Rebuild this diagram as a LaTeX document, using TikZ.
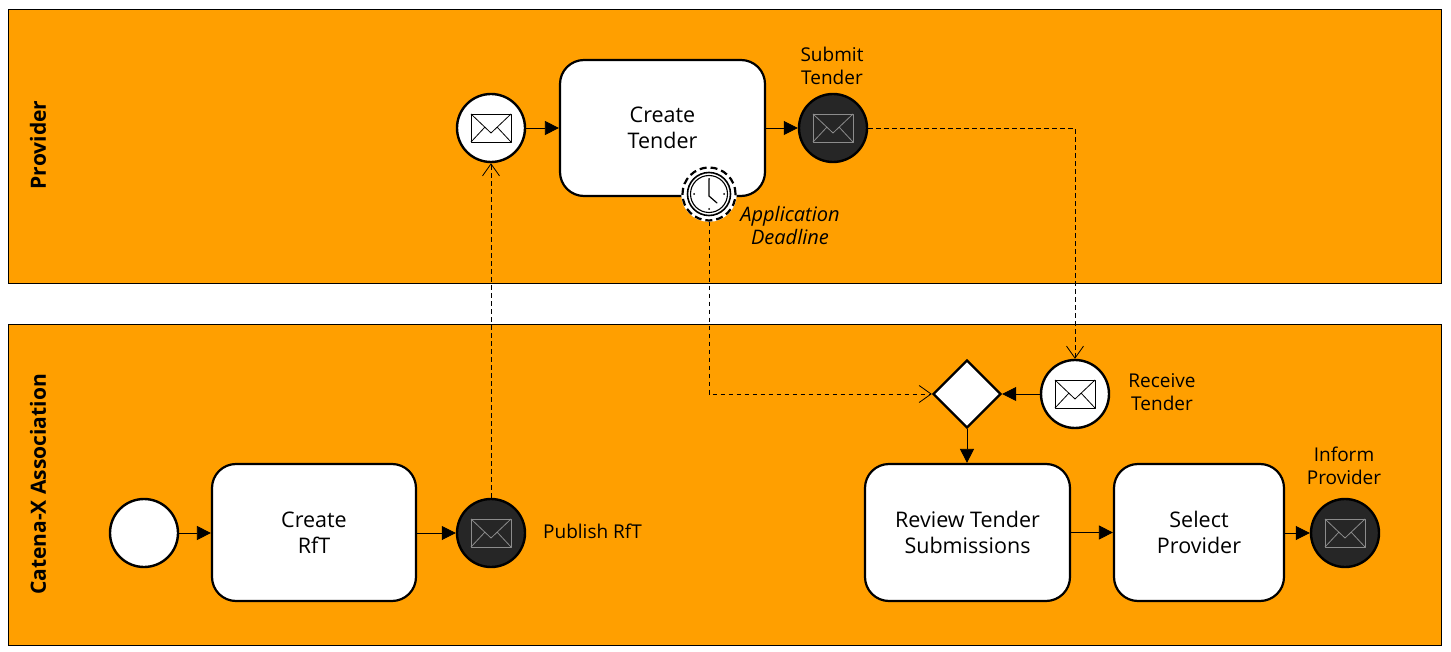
\documentclass[tikz,border=0pt]{standalone}
\usepackage{fontspec}
\setmainfont{Open Sans}
\usetikzlibrary{arrows.meta,calc,shapes.geometric}
\definecolor{lane}{HTML}{FF9F00}
\definecolor{darkev}{HTML}{262626}
\definecolor{envgray}{HTML}{8C8C8C}
\tikzset{
  x=1pt,y=-1pt,
  lanebox/.style={draw=black,line width=1pt,fill=lane},
  lanetext/.style={font=\bfseries\fontsize{21}{24}\selectfont,rotate=90,inner sep=0pt},
  taskbox/.style={draw=black,line width=2.2pt,fill=white,rounded corners=24pt,align=center,inner sep=0pt,font=\fontsize{21.5}{25.5}\selectfont},
  lightev/.style={circle,draw=black,line width=2.4pt,fill=white,minimum size=68pt,inner sep=0pt},
  darkevent/.style={circle,draw=black,line width=2.4pt,fill=darkev,minimum size=68pt,inner sep=0pt},
  gatebox/.style={diamond,draw=black,line width=2.4pt,fill=white,minimum width=68pt,minimum height=68pt,inner sep=0pt},
  lbl/.style={align=center,inner sep=0pt,font=\fontsize{19}{23}\selectfont},
  seqflow/.style={draw=black,line width=0.8pt,-{Triangle[length=14pt,width=14pt]}},
  msgflow/.style={draw=black,line width=0.8pt,dash pattern=on 4.5pt off 3.5pt,-{Straight Barb[length=12pt,width=17pt,line width=0.8pt,sep=0pt]}},
}
\newcommand{\envel}[2]{% center node, color
  \draw[#2,line width=0.9pt,line join=round] ($(#1)+(-20,-14)$) rectangle ($(#1)+(20,14)$);
  \draw[#2,line width=0.8pt,line join=round] ($(#1)+(-20,-14)$) -- ($(#1)+(0,5)$) -- ($(#1)+(20,-14)$);
  \draw[#2,line width=0.8pt] ($(#1)+(-20,14)$) -- ($(#1)+(-6,-1)$);
  \draw[#2,line width=0.8pt] ($(#1)+(20,14)$) -- ($(#1)+(6,-1)$);
}
\begin{document}
\begin{tikzpicture}
\useasboundingbox (0,0) rectangle (1451,652);
\fill[white] (0,0) rectangle (1451,652);
\draw[lanebox] (8,10) rectangle (1441,283.5);
\draw[lanebox] (8,324.5) rectangle (1441,645);
\node[lanetext] (provider) at (38,145) {Provider};
\node[lanetext] (catena) at (38,484.5) {Catena-X Association};

\node[taskbox,minimum width=205pt,minimum height=136pt] (ctender) at (662.5,128) {Create\\Tender};
\node[lightev] (recvreq) at (491,128) {};
\node[darkevent] (submit) at (833,128) {};
\node[circle,draw=white,fill=white,line width=2.6pt,minimum size=53pt,inner sep=0pt] (timerbg) at (709,194) {};
\node[circle,draw=black,line width=2.2pt,dash pattern=on 7pt off 4pt,minimum size=53pt,inner sep=0pt] (timer) at (709,194) {};
\node[circle,draw=black,fill=white,line width=1.6pt,minimum size=43pt,inner sep=0pt] (timerb) at (709,194) {};
\node[circle,draw=black,fill=white,line width=1.1pt,minimum size=37pt,inner sep=0pt] (timerc) at (709,194) {};
\draw[black,line width=1.2pt,line cap=round] (709,180) -- (709,196) -- (717,203);
\foreach \a in {0,90,180,270}{\fill[black] ($(timerc)+(\a:15)$) circle (1pt);}

\node[taskbox,minimum width=204pt,minimum height=137pt] (crft) at (314,532.5) {Create\\RfT};
\node[lightev] (start) at (144,533) {};
\node[darkevent] (publish) at (491,533) {};
\node[gatebox] (gate) at (967,394) {};
\node[lightev] (receive) at (1075,394) {};
\node[taskbox,minimum width=205pt,minimum height=137pt] (review) at (967.5,532.5) {Review Tender\\Submissions};
\node[taskbox,minimum width=170pt,minimum height=137pt] (select) at (1199,532.5) {Select\\Provider};
\node[darkevent] (inform) at (1345,533) {};

\envel{recvreq}{black}
\envel{receive}{black}
\envel{submit}{envgray}
\envel{publish}{envgray}
\envel{inform}{envgray}

\draw[seqflow] (recvreq) -- (ctender.west |- recvreq);
\draw[seqflow] (ctender.east |- submit) -- (submit);
\draw[seqflow] (start) -- (crft.west |- start);
\draw[seqflow] (crft.east |- publish) -- (publish);
\draw[seqflow] (review.east |- select) -- (select.west);
\draw[seqflow] (select.east |- inform) -- (inform);
\draw[seqflow] (receive) -- (gate);
\draw[seqflow] (gate) -- (review.north -| gate);

\draw[msgflow] (publish) -- (recvreq);
\draw[msgflow] (timer.south) -- (timer.south |- gate) -- (gate.west);
\draw[msgflow] (submit) -- (receive.north |- submit) -- (receive.north);

\node[lbl] (lsubmit) at (832,66) {Submit\\Tender};
\node[lbl,font=\itshape\fontsize{20}{23}\selectfont] (ldead) at (790,226) {Application\\Deadline};
\node[lbl] (lreceive) at (1162,392) {Receive\\Tender};
\node[lbl] (lpublish) at (592.5,531) {Publish RfT};
\node[lbl] (linform) at (1344,466) {Inform\\Provider};
\end{tikzpicture}
\end{document}
